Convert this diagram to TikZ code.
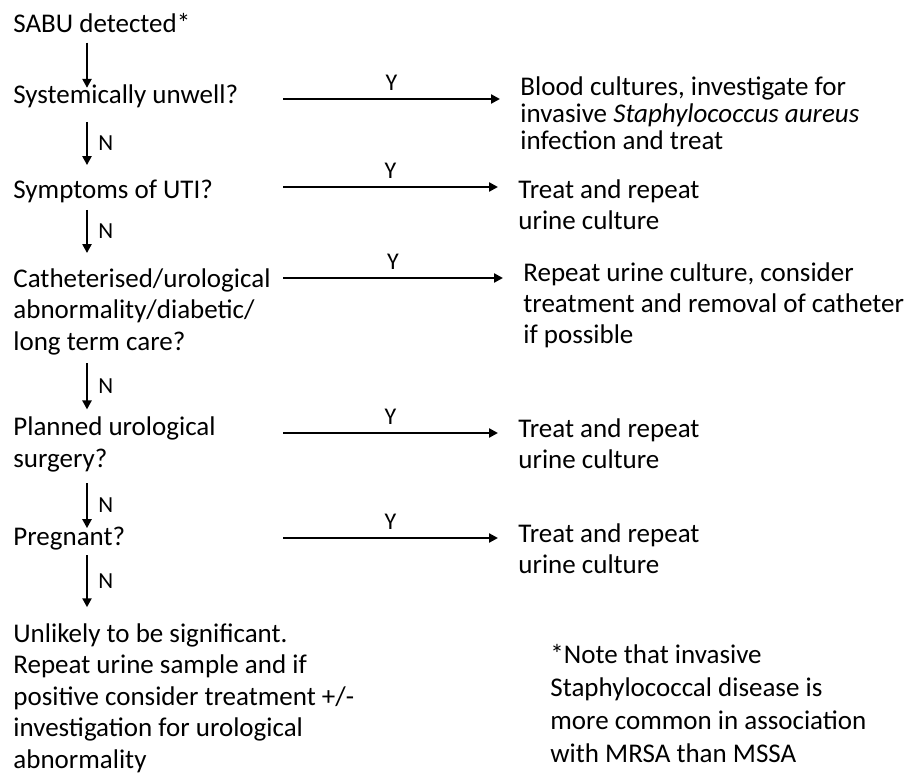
\documentclass[tikz,border=0pt]{standalone}
\usepackage{fontspec}
\setmainfont{Carlito}
\usetikzlibrary{arrows.meta,positioning}
\tikzset{>/.tip={Triangle[length=4.5pt,width=4.5pt]}}
\tikzset{question/.style={anchor=base west,inner sep=0pt,align=left,font=\fontsize{13.5}{15.7}\selectfont}}
\tikzset{outcome/.style={anchor=base west,inner xsep=10pt,inner ysep=0pt,align=left,font=\fontsize{13.5}{15.3}\selectfont}}
\tikzset{flowline/.style={line width=1.3pt}}
\tikzset{flowarrow/.style={flowline,->}}
\tikzset{ylab/.style={above=3.5pt,inner sep=0pt,font=\fontsize{12}{14}\selectfont}}
\tikzset{nlab/.style={right=5pt,inner sep=0pt,font=\fontsize{11.5}{13}\selectfont}}
\def\Saureus{\textit{Staphylococcus aureus}}

\begin{document}
\begin{tikzpicture}[x=0.5pt,y=-0.5pt]
  \useasboundingbox (0,0) rectangle (905,777);
  \coordinate (spine) at (87,0);
  % questions down the left (base = last line)
  \node[question](sabu) at (13,32){SABU detected*};
  \node[question](sys) at (13,103){Systemically unwell?};
  \node[question](uti) at (13,198){Symptoms of UTI?};
  \node[question](cath) at (13,350){Catheterised/urological\\abnormality/diabetic/\\long term care?};
  \node[question](surg) at (13,467){Planned urological\\surgery?};
  \node[question](preg) at (13,545){Pregnant?};
  \node[question](unlikely) at (13,768){Unlikely to be significant.\\Repeat urine sample and if\\positive consider treatment +/-\\investigation for urological\\abnormality};
  % what to do on Y
  \node[outcome,font=\fontsize{13.5}{13.4}\selectfont](blood) at (500,149){Blood cultures, investigate for\\invasive \Saureus\\infection and treat};
  \node[outcome](treatuti) at (498,229){Treat and repeat\\urine culture};
  \node[outcome](repeat) at (503,343){Repeat urine culture, consider\\treatment and removal of catheter\\if possible};
  \node[outcome](treatsurg) at (498,468){Treat and repeat\\urine culture};
  \node[outcome](treatpreg) at (498,573){Treat and repeat\\urine culture};
  \node[question,font=\fontsize{13.5}{16.5}\selectfont](note) at (550,762){*Note that invasive\\Staphylococcal disease is\\more common in association\\with MRSA than MSSA};
  % N arrows
  \draw[flowarrow] ([yshift=-5pt]sabu.south -| spine) -- ([yshift=-2pt]sys.north -| spine);
  \draw[flowarrow] ([yshift=-7pt]sys.south -| spine) -- node[nlab]{N} ([yshift=7pt]uti.north -| spine);
  \draw[flowarrow] ([yshift=-3.5pt]uti.south -| spine) -- node[nlab]{N} ([yshift=7.5pt]cath.north -| spine);
  \draw[flowarrow] ([yshift=-4pt]cath.south -| spine) -- node[nlab]{N} ([yshift=3.5pt]surg.north -| spine);
  \draw[flowarrow] ([yshift=-5.5pt]surg.south -| spine) -- node[nlab]{N} ([yshift=-1pt]preg.north -| spine);
  \draw[flowarrow] ([yshift=-2.5pt]preg.south -| spine) -- node[nlab]{N} ([yshift=8pt]unlikely.north -| spine);
  % Y arrows
  \coordinate (y1) at (283,99);
  \coordinate (y2) at (283,187);
  \coordinate (y3) at (283,278);
  \coordinate (y4) at (283,433);
  \coordinate (y5) at (283,538);
  \draw[flowline]
  (y1) edge[->] node[ylab]{Y} (y1 -| blood.west)
  (y2) edge[->] node[ylab]{Y} (y2 -| treatuti.west)
  (y3) edge[->] node[ylab]{Y} (y3 -| repeat.west)
  (y4) edge[->] node[ylab]{Y} (y4 -| treatsurg.west)
  (y5) edge[->] node[ylab]{Y} (y5 -| treatpreg.west);
\end{tikzpicture}
\end{document}
